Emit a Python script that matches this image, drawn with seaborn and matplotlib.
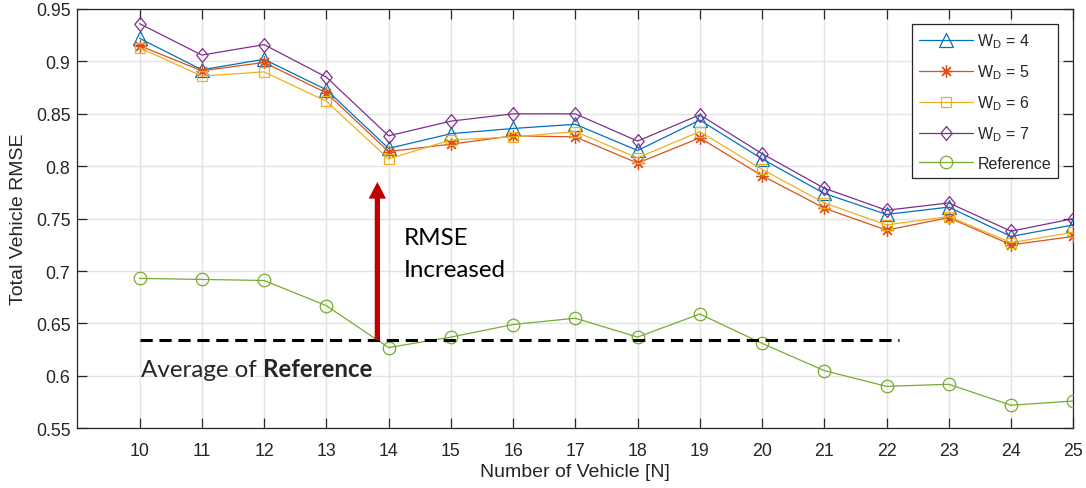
import matplotlib
matplotlib.use("Agg")
import matplotlib.pyplot as plt
import seaborn as sns
import pandas as pd
import numpy as np

# ---- data ----
n_vehicles = [10, 11, 12, 13, 14, 15, 16, 17, 18, 19, 20, 21, 22, 23, 24, 25]
wd4 = [0.922, 0.892, 0.902, 0.873, 0.817, 0.831, 0.836, 0.840, 0.815, 0.844, 0.807, 0.774, 0.754, 0.761, 0.733, 0.744]
wd5 = [0.915, 0.891, 0.899, 0.870, 0.814, 0.821, 0.829, 0.828, 0.803, 0.827, 0.791, 0.760, 0.739, 0.751, 0.725, 0.733]
wd6 = [0.913, 0.886, 0.890, 0.862, 0.807, 0.825, 0.828, 0.833, 0.808, 0.833, 0.797, 0.765, 0.744, 0.752, 0.727, 0.737]
wd7 = [0.936, 0.906, 0.916, 0.885, 0.829, 0.843, 0.850, 0.850, 0.824, 0.849, 0.812, 0.779, 0.758, 0.765, 0.738, 0.750]
reference = [0.693, 0.692, 0.691, 0.667, 0.627, 0.637, 0.649, 0.655, 0.637, 0.659, 0.631, 0.605, 0.590, 0.592, 0.572, 0.576]
avg_reference = 0.634
avg_line_x = [10, 22.2]
arrow_x = 13.82
arrow_top = 0.785

series_labels = ["W$_\\mathregular{D}$ = 4", "W$_\\mathregular{D}$ = 5",
                 "W$_\\mathregular{D}$ = 6", "W$_\\mathregular{D}$ = 7", "Reference"]
series_values = [wd4, wd5, wd6, wd7, reference]
colors = ["#0072BD", "#D95319", "#EDB120", "#7E2F8E", "#77AC30"]
diamond = [(0, 1), (0.82, 0), (0, -1), (-0.82, 0), (0, 1)]
markers = ["^", (8, 2, 0), "s", diamond, "o"]
msizes = [9.5, 9, 7.5, 10, 9]
yticks = [0.55, 0.6, 0.65, 0.7, 0.75, 0.8, 0.85, 0.9, 0.95]
ytick_labels = ["0.55", "0.6", "0.65", "0.7", "0.75", "0.8", "0.85", "0.9", "0.95"]

sns.set_style("ticks")
plt.rcParams["font.family"] = ["Liberation Sans", "DejaVu Sans"]
plt.rcParams["mathtext.fontset"] = "custom"
plt.rcParams["mathtext.rm"] = "Liberation Sans"

fig = plt.figure(figsize=(10.86, 4.89), dpi=100)
ax = fig.add_axes([0.0712, 0.1221, 0.9171, 0.8575])

for lab, vals, c, m, ms in zip(series_labels, series_values, colors, markers, msizes):
    df = pd.DataFrame({"N": n_vehicles, "RMSE": vals})
    sns.lineplot(data=df, x="N", y="RMSE", ax=ax, color=c, marker=m, markersize=ms,
                 markerfacecolor="none", markeredgecolor=c, markeredgewidth=0.9,
                 linewidth=0.9, label=lab, zorder=3)

# average line
ax.plot(avg_line_x, [avg_reference, avg_reference], color="black", linestyle=(0, (4, 2.2)),
        linewidth=2.2, zorder=4)

# arrow
ax.annotate("", xy=(arrow_x, arrow_top), xytext=(arrow_x, avg_reference),
            arrowprops=dict(facecolor="#C00000", edgecolor="none", width=3.8,
                            headwidth=12.5, headlength=12, shrink=0), zorder=5)

ann_font = ["Lato", "DejaVu Sans"]
afs = 17.4
ax.text(14.25, 0.726, "RMSE", fontsize=afs, family=ann_font, va="baseline", ha="left", color="black")
ax.text(14.25, 0.6955, "Increased", fontsize=afs, family=ann_font, va="baseline", ha="left", color="black")
t1 = ax.text(10.02, 0.600, "Average of ", fontsize=afs, family=ann_font, va="baseline", ha="left")
ax.annotate("Reference", xy=(1, 0), xycoords=t1, va="bottom", ha="left", fontsize=afs,
            family=ann_font, fontweight="bold")

ax.set_xlim(9, 25)
ax.set_ylim(0.55, 0.95)
ax.set_xticks(n_vehicles)
ax.set_yticks(yticks)
ax.set_yticklabels(ytick_labels)
ax.grid(True, color="#E3E3E3", linewidth=1.0)
ax.set_axisbelow(True)
ax.tick_params(direction="in", length=7, width=0.9, top=True, right=True,
               labelsize=12.8, labelcolor="#262626", color="#262626")
ax.tick_params(axis="x", pad=10)
ax.tick_params(axis="y", pad=5)
for s in ax.spines.values():
    s.set_visible(True)
    s.set_color("#262626")
    s.set_linewidth(0.9)
ax.set_xlabel("Number of Vehicle [N]", fontsize=14, color="#262626", labelpad=3)
ax.set_ylabel("Total Vehicle RMSE", fontsize=14, color="#262626", labelpad=6)

leg = ax.legend(loc="upper right", bbox_to_anchor=(0.985, 0.964), borderaxespad=0,
                fontsize=11.5, frameon=True, fancybox=False, edgecolor="#262626", framealpha=1,
                handlelength=3.4, borderpad=0.45, labelspacing=0.78, handletextpad=0.25)
leg.get_frame().set_linewidth(0.9)

fig.savefig("out.png", dpi=100)
